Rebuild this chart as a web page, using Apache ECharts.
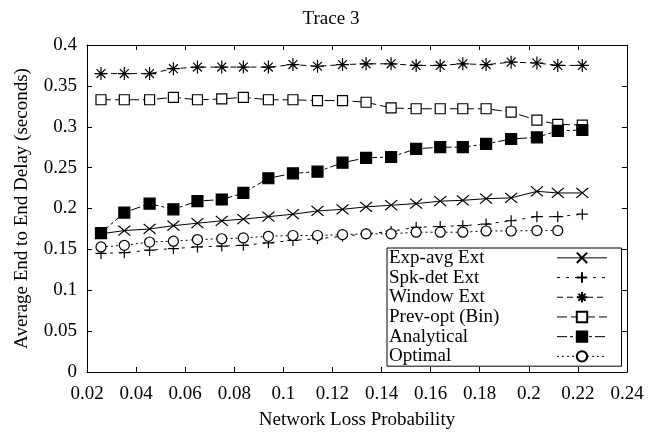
<!DOCTYPE html>
<html>
<head>
<meta charset="utf-8">
<script src="https://cdn.jsdelivr.net/npm/echarts@6/dist/echarts.min.js"></script>
<style>html,body{margin:0;padding:0;background:#fff}#c{width:662px;height:438px}</style>
</head>
<body>
<div id="c"></div>
<script>
const titleText = 'Trace 3';
const xName = 'Network Loss Probability';
const yName = 'Average End to End Delay (seconds)';
const seriesNames = ['Exp-avg Ext', 'Spk-det Ext', 'Window Ext', 'Prev-opt (Bin)', 'Analytical', 'Optimal'];
const xVals = [0.0257, 0.0352, 0.0455, 0.0552, 0.0650, 0.0749, 0.0837, 0.0939, 0.1039, 0.1139, 0.1241, 0.1337, 0.1439, 0.1541, 0.1639, 0.1731, 0.1826, 0.1928, 0.2033, 0.2118, 0.2218];
const expAvg = [0.169, 0.173, 0.175, 0.179, 0.182, 0.185, 0.187, 0.190, 0.193, 0.197, 0.199, 0.202, 0.204, 0.206, 0.209, 0.210, 0.212, 0.213, 0.221, 0.219, 0.219];
const spkDet = [0.145, 0.146, 0.149, 0.151, 0.153, 0.154, 0.155, 0.158, 0.161, 0.163, 0.166, 0.169, 0.172, 0.177, 0.178, 0.179, 0.181, 0.185, 0.190, 0.190, 0.193];
const windowExt = [0.365, 0.365, 0.365, 0.371, 0.373, 0.373, 0.373, 0.373, 0.376, 0.374, 0.376, 0.377, 0.377, 0.375, 0.375, 0.377, 0.376, 0.379, 0.378, 0.375, 0.375];
const prevOpt = [0.333, 0.333, 0.333, 0.336, 0.333, 0.334, 0.336, 0.333, 0.333, 0.332, 0.332, 0.330, 0.323, 0.322, 0.322, 0.322, 0.322, 0.318, 0.308, 0.303, 0.302];
const analytical = [0.170, 0.195, 0.206, 0.199, 0.209, 0.211, 0.219, 0.237, 0.243, 0.245, 0.256, 0.262, 0.263, 0.273, 0.275, 0.275, 0.279, 0.285, 0.287, 0.295, 0.296];
const optimal = [0.153, 0.155, 0.159, 0.160, 0.162, 0.163, 0.164, 0.166, 0.167, 0.167, 0.168, 0.169, 0.169, 0.171, 0.171, 0.171, 0.1725, 0.1725, 0.173, 0.173];

const FONT = "'Liberation Serif', 'Times New Roman', serif";
const pair = (ys) => ys.map((y, i) => [xVals[i], y]);
const fmt = (v) => String(+v.toFixed(2));

const styles = [
  { symbol: 'path://M0 0L10 10M10 0L0 10', size: [12, 10], fill: '#000', dash: 'solid' },
  { symbol: 'path://M5 0L5 10M0 5L10 5', size: 11, fill: '#000', dash: [3, 6] },
  { symbol: 'path://M5 0L5 10M0 5L10 5M1.6 1.6L8.4 8.4M8.4 1.6L1.6 8.4', size: 13, fill: '#000', dash: [6, 4] },
  { symbol: 'rect', size: 10, fill: '#fff', dash: [10, 4] },
  { symbol: 'rect', size: 11, fill: '#000', dash: [10, 3, 3, 3] },
  { symbol: 'circle', size: 10, fill: '#fff', dash: [2, 3] }
];
const datas = [expAvg, spkDet, windowExt, prevOpt, analytical, optimal];

const series = seriesNames.map((n, i) => ({
  name: n,
  type: 'line',
  data: pair(datas[i]),
  symbol: styles[i].symbol,
  symbolSize: styles[i].size,
  showAllSymbol: true,
  animation: false,
  lineStyle: { color: '#000', width: 1, type: styles[i].dash },
  itemStyle: { color: styles[i].fill, borderColor: '#000', borderWidth: 1.2 },
  emphasis: { disabled: true },
  z: 2 + i
}));

const chart = echarts.init(document.getElementById('c'), null, { renderer: 'canvas' });
chart.setOption({
  backgroundColor: '#fff',
  animation: false,
  textStyle: { fontFamily: FONT, color: '#000' },
  title: {
    text: titleText, left: 'center', top: 5,
    textStyle: { fontFamily: FONT, fontSize: 19, fontWeight: 'normal', color: '#000' }
  },
  grid: { left: 87, right: 35, top: 45, bottom: 66, outerBoundsMode: 'none' },
  legend: {
    orient: 'vertical', left: 387, top: 248, align: 'right',
    itemWidth: 50, itemHeight: 13, itemGap: 0,
    padding: [0, 14, 0, 2],
    borderColor: '#000', borderWidth: 1, backgroundColor: '#fff',
    lineStyle: { width: 1 },
    formatter: (name) => '{a|' + name + '}',
    textStyle: {
      fontFamily: FONT, fontSize: 19, color: '#000', lineHeight: 19.7,
      rich: { a: { width: 163, align: 'left', fontFamily: FONT, fontSize: 19, color: '#000', lineHeight: 19.7 } }
    },
    data: seriesNames,
    z: 20
  },
  xAxis: [{
    type: 'value', min: 0.02, max: 0.24, interval: 0.02,
    name: xName, nameLocation: 'middle', nameGap: 39,
    nameTextStyle: { fontFamily: FONT, fontSize: 19, color: '#000' },
    axisLine: { onZero: false, lineStyle: { color: '#000', width: 1 } },
    axisTick: { inside: true, length: 5, lineStyle: { color: '#000' } },
    axisLabel: { fontFamily: FONT, fontSize: 19, color: '#000', margin: 13, formatter: fmt },
    splitLine: { show: false }
  }, {
    type: 'value', min: 0.02, max: 0.24, interval: 0.02, position: 'top',
    axisLine: { onZero: false, lineStyle: { color: '#000', width: 1 } },
    axisTick: { inside: true, length: 5, lineStyle: { color: '#000' } },
    axisLabel: { show: false }, splitLine: { show: false }
  }],
  yAxis: [{
    type: 'value', min: 0, max: 0.4, interval: 0.05,
    name: yName, nameLocation: 'middle', nameGap: 55,
    nameTextStyle: { fontFamily: FONT, fontSize: 19, color: '#000' },
    axisLine: { show: true, onZero: false, lineStyle: { color: '#000', width: 1 } },
    axisTick: { show: true, inside: true, length: 5, lineStyle: { color: '#000' } },
    axisLabel: { fontFamily: FONT, fontSize: 19, color: '#000', margin: 10, formatter: fmt },
    splitLine: { show: false }
  }, {
    type: 'value', min: 0, max: 0.4, interval: 0.05, position: 'right',
    axisLine: { show: true, onZero: false, lineStyle: { color: '#000', width: 1 } },
    axisTick: { show: true, inside: true, length: 5, lineStyle: { color: '#000' } },
    axisLabel: { show: false }, splitLine: { show: false }
  }],
  series: series
});
</script>
</body>
</html>
